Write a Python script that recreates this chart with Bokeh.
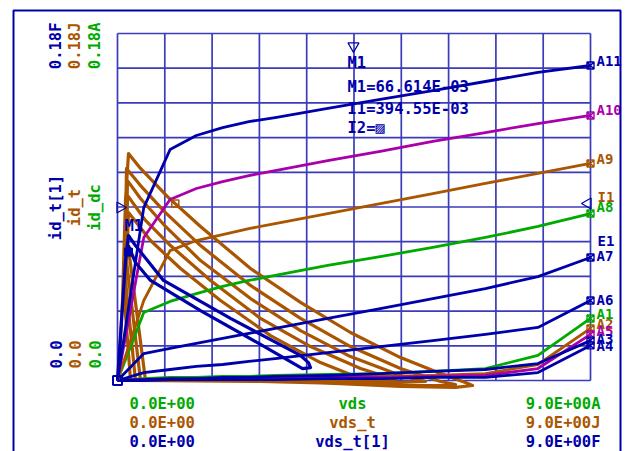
import math
from bokeh.plotting import figure
from bokeh.models import Label, BoxAnnotation, Range1d
from bokeh.embed import file_html
from bokeh.resources import INLINE

# ---------------- data ----------------
vds_dc = [0, 0.5, 1.0, 1.5, 2.0, 2.5, 3.0, 4.0, 5.0, 6.0, 7.0, 8.0, 9.0]
id_A11 = [0, 0.0897, 0.1198, 0.1271, 0.1312, 0.1343, 0.1364, 0.1411, 0.1458, 0.1504, 0.1551, 0.1598, 0.1634]
id_A10 = [0, 0.0742, 0.0939, 0.0996, 0.1032, 0.1063, 0.1089, 0.1141, 0.1188, 0.1240, 0.1286, 0.1333, 0.1375]
id_A9 = [0, 0.0415, 0.0674, 0.0726, 0.0757, 0.0788, 0.0814, 0.0866, 0.0918, 0.0970, 0.1022, 0.1074, 0.1126]
id_A8 = [0, 0.0353, 0.0410, 0.0451, 0.0488, 0.0519, 0.0545, 0.0597, 0.0643, 0.0690, 0.0742, 0.0799, 0.0866]
id_A7 = [0, 0.0140, 0.0166, 0.0192, 0.0218, 0.0244, 0.0270, 0.0322, 0.0373, 0.0425, 0.0477, 0.0539, 0.0638]
id_A6 = [0, 0.0041, 0.0057, 0.0073, 0.0083, 0.0099, 0.0114, 0.0145, 0.0176, 0.0207, 0.0239, 0.0275, 0.0415]
id_A1 = [0, 0.0010, 0.0016, 0.0016, 0.0021, 0.0021, 0.0026, 0.0031, 0.0036, 0.0047, 0.0062, 0.0130, 0.0322]
id_A2 = [0, 0.0005, 0.0010, 0.0010, 0.0010, 0.0016, 0.0016, 0.0021, 0.0021, 0.0026, 0.0036, 0.0083, 0.0270]
id_A5 = [0, 0.0005, 0.0005, 0.0010, 0.0010, 0.0010, 0.0010, 0.0016, 0.0016, 0.0021, 0.0026, 0.0062, 0.0239]
id_A3 = [0, 0.0005, 0.0010, 0.0010, 0.0016, 0.0016, 0.0021, 0.0026, 0.0036, 0.0047, 0.0057, 0.0088, 0.0207]
id_A4 = [0, 0.0, 0.0005, 0.0005, 0.0005, 0.0005, 0.0005, 0.0010, 0.0010, 0.0016, 0.0016, 0.0041, 0.0182]

# transient id_t vs vds_t (J, brown) - five switching loops
vds_t = [0.019, 0.095, 0.152, 0.209, 0.438, 0.951, 1.579, 2.531, 3.482, 4.433, 5.385, 6.146, 6.621, 6.755,
         6.431, 5.385, 4.243, 3.101, 1.579, 0.247,
         0.133, 0.171, 0.438, 0.913, 1.579, 2.531, 3.482, 4.433, 5.385, 6.146, 6.431, 5.955, 4.433, 2.721, 0.342,
         0.152, 0.190, 0.438, 0.913, 1.579, 2.531, 3.482, 4.433, 5.385, 5.860, 5.385, 3.482, 0.438,
         0.171, 0.190, 0.533, 1.008, 1.770, 2.721, 3.672, 4.624, 5.290, 4.243, 0.533,
         0.190, 0.209, 0.628, 1.199, 1.960, 2.911, 3.862, 4.433, 3.482, 0.628]
id_t = [0.0010, 0.0415, 0.0934, 0.1177, 0.1100, 0.0954, 0.0799, 0.0581, 0.0405, 0.0249, 0.0119, 0.0036, -0.0010, -0.0026,
        -0.0036, -0.0031, -0.0016, -0.0005, 0.0, 0.0005,
        0.0415, 0.1100, 0.1011, 0.0871, 0.0700, 0.0493, 0.0322, 0.0176, 0.0062, -0.0005, -0.0021, -0.0026, -0.0016,
        -0.0005, 0.0,
        0.0519, 0.1037, 0.0944, 0.0799, 0.0622, 0.0425, 0.0259, 0.0124, 0.0026, -0.0005, -0.0010, -0.0005, 0.0,
        0.0622, 0.0960, 0.0830, 0.0700, 0.0519, 0.0322, 0.0176, 0.0062, 0.0005, -0.0005, 0.0,
        0.0726, 0.0871, 0.0726, 0.0581, 0.0415, 0.0233, 0.0093, 0.0031, 0.0005, 0.0]

# transient id_t[1] vs vds_t[1] (F, blue)
vds_t1 = [0, 0.076, 0.152, 0.209, 0.342, 0.875, 2.150, 3.482, 3.634, 3.672, 3.520, 2.721, 1.579, 0.628, 0.342, 0.209]
id_t1 = [0, 0.0311, 0.0622, 0.0752, 0.0700, 0.0519, 0.0322, 0.0130, 0.0093, 0.0067, 0.0062, 0.0187, 0.0363,
         0.0519, 0.0612, 0.0700]

x_min, x_max = 0.0, 9.0
y_min, y_max = 0.0, 0.18
x_ticks = [0.0, 0.9, 1.8, 2.7, 3.6, 4.5, 5.4, 6.3, 7.2, 8.1, 9.0]
y_ticks = [0.0, 0.018, 0.036, 0.054, 0.072, 0.090, 0.108, 0.126, 0.144, 0.162, 0.18]

m1_vds, m1_id = 0.209, 0.0666
cursor_vds = 4.49
cursor_id_left, cursor_id_right = 0.0897, 0.0918
markJ_vds, markJ_id = 1.10, 0.0918

# ---------------- style ----------------
BLUE = "#0000aa"
GREEN = "#00aa00"
BROWN = "#aa5500"
MAGENTA = "#aa00aa"
GRID = "#3b3bbb"
FONT = "DejaVu Sans Mono"
FS = "15.5px"

W, H = 622, 451


# screen-pixel helpers for annotation placement (data frame: x 117..590, y 380..33)
def dx(px):
    return (px - 117) * 9.0 / 473.0


def dy(py):
    return (380 - py) * 0.18 / 347.0


p = figure(width=W, height=H,
           x_range=Range1d(dx(0), dx(W)), y_range=Range1d(dy(H), dy(0)),
           x_axis_type=None, y_axis_type=None,
           toolbar_location=None, output_backend="svg",
           min_border_left=0, min_border_right=0, min_border_top=0, min_border_bottom=0)
p.outline_line_color = None
p.background_fill_color = "white"
p.border_fill_color = "white"

# grid
p.segment(x0=x_ticks, y0=[y_min] * len(x_ticks), x1=x_ticks, y1=[y_max] * len(x_ticks),
          line_color=GRID, line_width=1.7)
p.segment(x0=[x_min] * len(y_ticks), y0=y_ticks, x1=[x_max] * len(y_ticks), y1=y_ticks,
          line_color=GRID, line_width=1.7)

# transient J (brown)
p.line(vds_t, id_t, line_color=BROWN, line_width=3.2, line_join="round")

# DC family
dc = [("A1", id_A1, GREEN, 4), ("A2", id_A2, BROWN, 4), ("A5", id_A5, MAGENTA, 3),
      ("A3", id_A3, BLUE, 2), ("A4", id_A4, BLUE, -1),
      ("A6", id_A6, BLUE, 0), ("A7", id_A7, BLUE, 2), ("A8", id_A8, GREEN, 7),
      ("A9", id_A9, BROWN, 4), ("A10", id_A10, MAGENTA, 5), ("A11", id_A11, BLUE, 5)]
for name, ys, col, off in dc:
    p.line(vds_dc, ys, line_color=col, line_width=2.8, line_join="round")
    p.scatter([vds_dc[-1]], [ys[-1]], marker="square_x", size=7, line_color=col,
              fill_color=None, line_width=1.4)
    p.add_layout(Label(x=vds_dc[-1], y=ys[-1], text=name, x_offset=6, y_offset=off,
                       text_color=col, text_font=FONT, text_font_size="14px",
                       text_font_style="bold", text_baseline="middle", text_align="left"))

# transient F (blue)
p.line(vds_t1, id_t1, line_color=BLUE, line_width=3.2, line_join="round")

# markers
p.scatter([0], [0], marker="square", size=9, line_color=BLUE, fill_color=None, line_width=2)
p.scatter([m1_vds], [m1_id], marker="square", size=8, line_color=BLUE, fill_color=BLUE)
p.scatter([markJ_vds], [markJ_id], marker="square", size=7, line_color=BROWN, fill_color=None, line_width=1.5)
p.scatter([cursor_vds], [y_max - 0.0065], marker="inverted_triangle", size=11,
          line_color=BLUE, fill_color=None, line_width=1.2)
p.scatter([x_min + 0.05], [cursor_id_left], marker="triangle", angle=-math.pi / 2, size=11,
          line_color=BLUE, fill_color=None, line_width=1.2)
p.scatter([x_max - 0.05], [cursor_id_right], marker="triangle", angle=math.pi / 2, size=11,
          line_color=BLUE, fill_color=None, line_width=1.2)


def lab(text, x, y, color, align="left", angle=0.0, baseline="middle", size=FS):
    p.add_layout(Label(x=x, y=y, text=text, text_color=color, text_font=FONT,
                       text_font_size=size, text_font_style="bold", text_align=align,
                       text_baseline=baseline, angle=angle))


# left rotated axis labels
for t, col, cx in [("0.18F", BLUE, 55), ("0.18J", BROWN, 74.5), ("0.18A", GREEN, 94)]:
    lab(t, dx(cx), dy(22), col, align="right", angle=math.pi / 2)
for t, col, cx in [("id_t[1]", BLUE, 55), ("id_t", BROWN, 74.5), ("id_dc", GREEN, 94)]:
    lab(t, dx(cx), dy(207), col, align="center", angle=math.pi / 2)
for t, col, cx in [("0.0", BLUE, 55), ("0.0", BROWN, 74.5), ("0.0", GREEN, 94)]:
    lab(t, dx(cx), dy(368), col, align="left", angle=math.pi / 2)

# bottom axis labels
rows = [(GREEN, "vds", "9.0E+00A", 403), (BROWN, "vds_t", "9.0E+00J", 422),
        (BLUE, "vds_t[1]", "9.0E+00F", 441)]
for col, name, right, py in rows:
    lab("0.0E+00", dx(129), dy(py), col, align="left")
    lab(name, dx(352), dy(py), col, align="center")
    lab(right, dx(600), dy(py), col, align="right")

# marker readouts
lab("M1", dx(347), dy(62), BLUE)
lab("M1=66.614E-03", dx(347), dy(86), BLUE)
lab("I1=394.55E-03", dx(347), dy(108), BLUE)
lab("I2=\u25a8", dx(347), dy(127), BLUE)
lab("M1", dx(124), dy(225), BLUE)
lab("I1", dx(597), dy(196), BROWN, size="14px")
lab("E1", dx(597), dy(240), BLUE, size="14px")

# outer frame
p.add_layout(BoxAnnotation(left=dx(13), right=dx(620), top=dy(10), bottom=dy(470),
                           fill_alpha=0, fill_color=None, line_color=BLUE, line_alpha=1.0,
                           line_width=2))

open("out.html", "w").write(file_html(p, INLINE))
